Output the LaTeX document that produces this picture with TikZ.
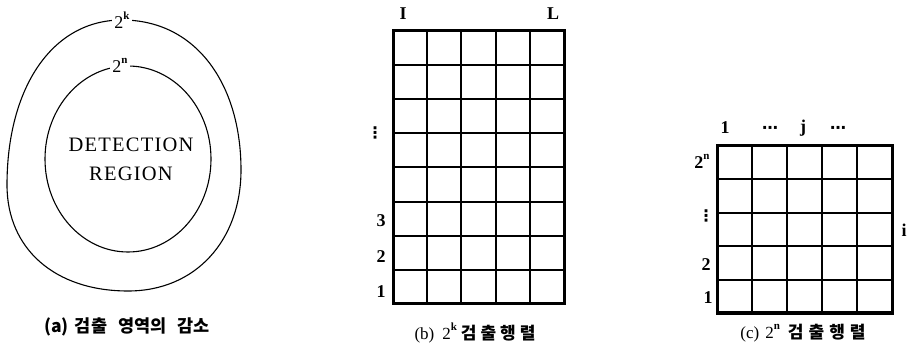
\documentclass[tikz,border=0pt]{standalone}
\usepackage{fontspec}
\setmainfont{Liberation Serif}
\newfontfamily\kr{Noto Sans CJK KR}
\newfontfamily\dv{DejaVu Sans}
\newcommand\supx[1]{\raisebox{0.5em}{\fontsize{11}{11}\selectfont\bfseries #1}}
\begin{document}
\begin{tikzpicture}[x=1pt,y=-1pt,
  lbl/.style={inner sep=1pt,font=\fontsize{18}{20}\selectfont\bfseries},
  dotlbl/.style={inner sep=1pt,font=\dv\fontsize{16}{18}\selectfont\bfseries},
  suplbl/.style={inner sep=2pt,fill=white,font=\fontsize{18}{20}\selectfont},
  captxt/.style={inner sep=0pt,font=\fontsize{17}{19}\selectfont},
  curve/.style={line width=1.1pt},
  gridline/.style={line width=2pt},
  gridframe/.style={line width=3pt}]
\useasboundingbox (0,0) rectangle (912,352);
% (a) regions
\draw[curve] (122,20) .. controls (196,20) and (241,84) .. (241,170)
  .. controls (241,240) and (196,291) .. (128,291)
  .. controls (55,291) and (7,249) .. (7,185)
  .. controls (7,88) and (52,20) .. (122,20) -- cycle;
\draw[curve] (128,159) ellipse [x radius=83, y radius=93];
\node[suplbl] (k) at (122,20) {2\supx{k}};
\node[suplbl] (n) at (120,65) {2\supx{n}};
\node[inner sep=0pt,align=center,font=\fontsize{20.5}{29}\selectfont\addfontfeatures{LetterSpace=6}] (det) at (131,159) {DETECTION\\REGION};
\node[captxt,font=\kr\bfseries\fontsize{17.5}{19}\selectfont] (capa) at (127,327) {(a)\hspace{6pt}검출\hspace{11pt}영역의\hspace{11pt}감소};
% (b) 2^k matrix
\foreach \x in {1,...,4} \draw[gridline] ({393+\x*34.2},31) -- ({393+\x*34.2},304);
\foreach \y in {1,...,7} \draw[gridline] (393,{31+\y*34.125}) -- (564,{31+\y*34.125});
\draw[gridframe] (393,31) rectangle (564,304);
\node[lbl] (bI) at (403,14) {I};
\node[lbl] (bL) at (553,14) {L};
\node[dotlbl] (bv) at (375,133) {⋮};
\node[lbl] (b3) at (381,221) {3};
\node[lbl] (b2) at (381,257) {2};
\node[lbl] (b1) at (381,292) {1};
\node[captxt] (capb) at (475,333) {(b)\hspace{8pt}2\supx{k}\hspace{4pt}{\kr\bfseries 검\hspace{4pt}출\hspace{4pt}행\hspace{4pt}렬}};
% (c) 2^n matrix
\foreach \x in {1,...,4} \draw[gridline] ({717+\x*35},146) -- ({717+\x*35},313);
\foreach \y in {1,...,4} \draw[gridline] (717,{146+\y*33.4}) -- (892,{146+\y*33.4});
\draw[gridframe] (717,146) rectangle (892,313);
\node[lbl] (c1) at (725,128) {1};
\node[dotlbl] (cd1) at (770,130) {⋯};
\node[lbl] (cj) at (803,128) {j};
\node[dotlbl] (cd2) at (838,130) {⋯};
\node[lbl] (cn) at (702,161) {2\supx{n}};
\node[dotlbl] (cv) at (706,216) {⋮};
\node[lbl] (c2) at (706,265) {2};
\node[lbl] (c1b) at (708,298) {1};
\node[lbl] (ci) at (904,230) {i};
\node[captxt] (capc) at (803,333) {(c)\hspace{6pt}2\supx{n}\hspace{8pt}{\kr\bfseries 검\hspace{5pt}출\hspace{5pt}행\hspace{5pt}렬}};
\end{tikzpicture}
\end{document}
